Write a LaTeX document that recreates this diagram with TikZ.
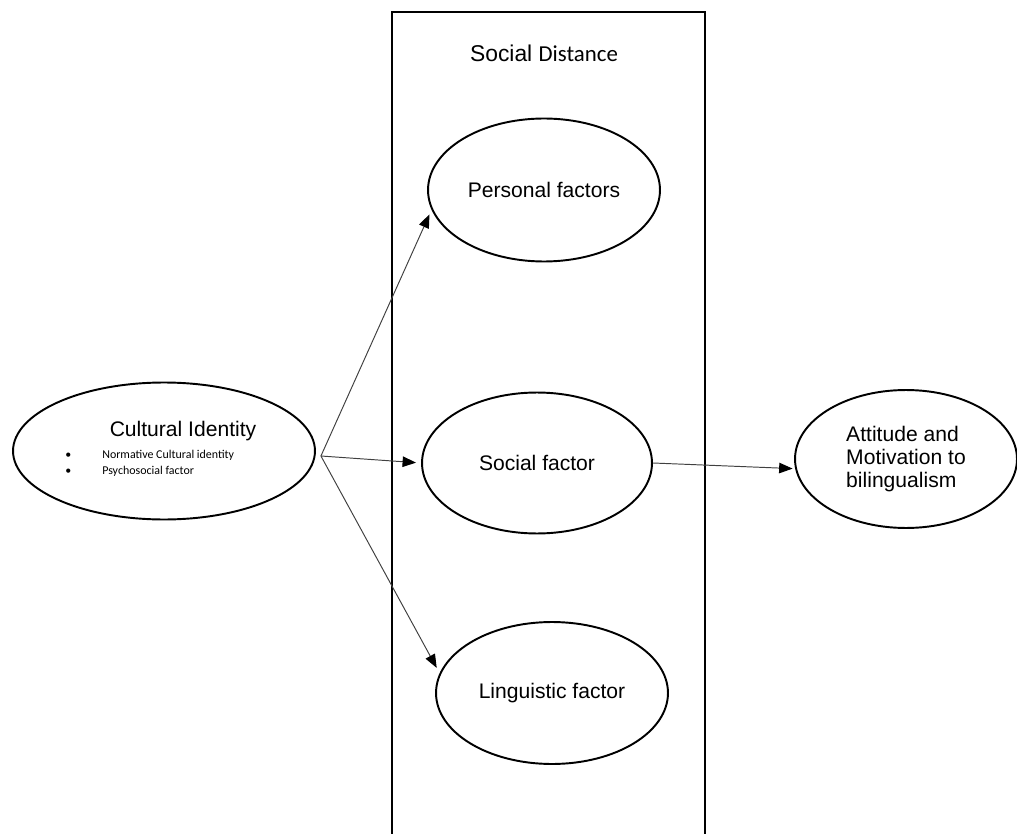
\documentclass[tikz,border=0pt]{standalone}
\usepackage{fontspec}
\setmainfont{Liberation Sans}
\newfontfamily\calibri{Carlito}
\usetikzlibrary{shapes.geometric,arrows.meta}

\begin{document}
\begin{tikzpicture}[x=0.02cm,y=-0.02cm,
	oval/.style={draw,ellipse,line width=1.1pt,inner sep=0pt,font=\fontsize{12}{13.1}\selectfont},
	arr/.style={-{Triangle[length=0.27cm,width=0.21cm,color=black]},line width=0.55pt,black!75,shorten >=0.1cm}]
					\useasboundingbox (0,0) rectangle (1017,834);
					\draw[line width=1.3pt] (392,840) -- (392,12) -- (705,12) -- (705,840);
					\node[font=\fontsize{13}{15}\selectfont] (T) at (544,53) {Social {\calibri Distance}};
					\node[oval,minimum width=6.04cm,minimum height=2.74cm] (CI) at (164,451) {};
					\node[font=\fontsize{12}{14}\selectfont] (CIt) at (183,431) {Cultural Identity};
					\node[anchor=west,inner sep=0pt,font=\calibri\fontsize{6.8}{9}\selectfont] (CIl) at (65,463)
						{\begin{tabular}{@{}l@{\hspace{0.62cm}}l@{}}\textbullet & Normative Cultural identity\\ \textbullet & Psychosocial factor\end{tabular}};
					\node[oval,minimum width=4.64cm,minimum height=2.86cm] (PF) at (544,190) {Personal factors};
					\node[oval,minimum width=4.6cm,minimum height=2.82cm] (SF) at (537,463) {Social factor};
					\node[oval,minimum width=4.64cm,minimum height=2.84cm] (LF) at (552,693) {Linguistic factor};
					\node[oval,minimum width=4.44cm,minimum height=2.76cm,align=left] (AM) at (906,459) {Attitude and\\Motivation to\\bilingualism};
					\coordinate (H) at ([xshift=0.1cm,yshift=-0.1cm]CI.east);
					\draw[arr] (H) -- (PF.190);
					\draw[arr] (H) -- (SF.west);
					\draw[arr,shorten >=0.12cm] (H) -- (LF.170);
					\draw[arr,shorten >=0.05cm] (SF.east) -- (AM.185);
			\end{tikzpicture}
\end{document}
